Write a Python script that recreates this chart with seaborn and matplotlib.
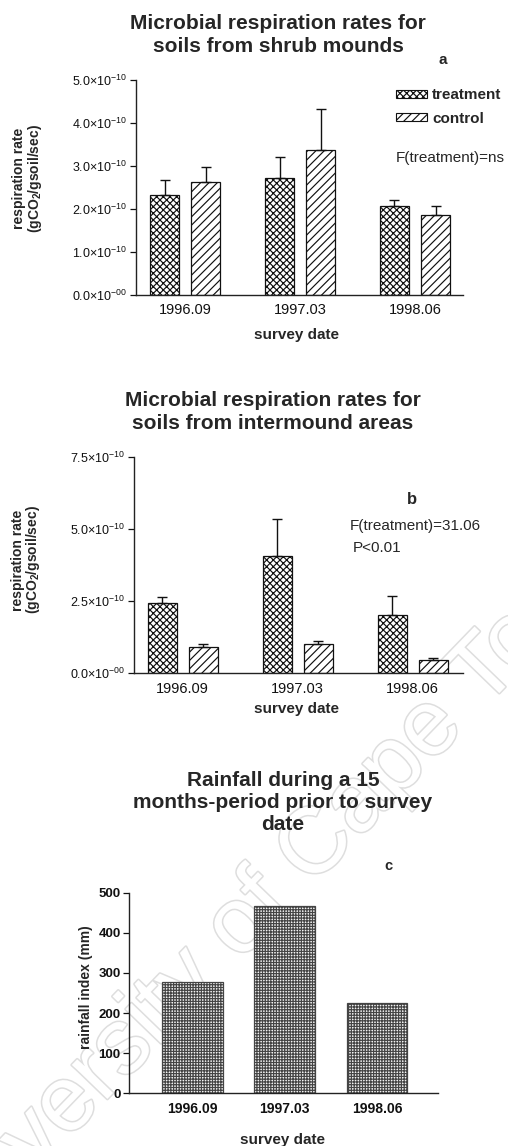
import matplotlib
matplotlib.use("Agg")
import matplotlib.pyplot as plt
import matplotlib.patheffects as pe
from matplotlib.patches import Patch
import numpy as np
import pandas as pd
import seaborn as sns

# ---- data -------------------------------------------------------------
dates = ["1996.09", "1997.03", "1998.06"]
groups = ["treatment", "control"]

# shrub mounds (units of 1e-10 gCO2/gsoil/sec)
mound_treatment = [2.33, 2.71, 2.07]
mound_control = [2.63, 3.37, 1.86]
mound_treatment_err = [0.34, 0.51, 0.13]
mound_control_err = [0.35, 0.96, 0.22]

# intermound areas (units of 1e-10 gCO2/gsoil/sec)
inter_treatment = [2.45, 4.08, 2.02]
inter_control = [0.92, 1.02, 0.46]
inter_treatment_err = [0.21, 1.27, 0.67]
inter_control_err = [0.09, 0.11, 0.06]

# rainfall index over the 15 months before each survey (mm)
rainfall = [278, 468, 226]

mound_ticks = [0, 1, 2, 3, 4, 5]
mound_ticklabels = ["$0.0×10^{-00}$", "$1.0×10^{-10}$", "$2.0×10^{-10}$",
                    "$3.0×10^{-10}$", "$4.0×10^{-10}$", "$5.0×10^{-10}$"]
inter_ticks = [0, 2.5, 5.0, 7.5]
inter_ticklabels = ["$0.0×10^{-00}$", "$2.5×10^{-10}$", "$5.0×10^{-10}$",
                    "$7.5×10^{-10}$"]
rain_ticks = [0, 100, 200, 300, 400, 500]

# ---- style ------------------------------------------------------------
sns.set_theme(style="ticks")
plt.rcParams["font.family"] = ["Liberation Sans", "DejaVu Sans"]
plt.rcParams["mathtext.fontset"] = "custom"
plt.rcParams["mathtext.rm"] = "Liberation Sans"
plt.rcParams["mathtext.it"] = "Liberation Sans:italic"
plt.rcParams["mathtext.bf"] = "Liberation Sans:bold"
plt.rcParams["mathtext.default"] = "regular"
plt.rcParams["hatch.linewidth"] = 0.85

W, H = 508, 1146
fig = plt.figure(figsize=(W / 100, H / 100), dpi=100)


def fx(x):
    return x / W


def fy(y):
    return 1 - y / H


def axes_px(left, right, top, bottom):
    return fig.add_axes([fx(left), fy(bottom), (right - left) / W, (bottom - top) / H])


# faint outlined institutional watermark, kept underneath every panel
fig.text(fx(268), fy(898), "University of Cape Town", rotation=46,
         fontsize=67, color="white", ha="center", va="center", zorder=-5,
         family="Liberation Sans",
         path_effects=[pe.withStroke(linewidth=2.2, foreground="#dedede")])

TITLE_SIZE = 15


def style_axes(ax, ysize=9, xsize=10.5, weight="normal"):
    sns.despine(ax=ax)
    ax.set_facecolor("none")
    for s in ("left", "bottom"):
        ax.spines[s].set_color("#222222")
        ax.spines[s].set_linewidth(1.0)
    ax.tick_params(axis="x", length=0, labelsize=xsize, pad=6, colors="#111111")
    ax.tick_params(axis="y", length=4, width=0.9, labelsize=ysize, pad=2, colors="#111111")
    for lab in ax.get_xticklabels() + ax.get_yticklabels():
        lab.set_fontweight(weight)


def grouped_panel(ax, treat, ctrl, terr, cerr):
    df = pd.DataFrame({
        "date": dates * 2,
        "group": [groups[0]] * 3 + [groups[1]] * 3,
        "rate": treat + ctrl,
    })
    sns.barplot(data=df, x="date", y="rate", hue="group", order=dates,
                hue_order=groups, width=0.72, gap=0.3, errorbar=None,
                legend=False, ax=ax)
    hatches = ["xxxxx", "////"]
    errs = [terr, cerr]
    for cont, hatch, err in zip(ax.containers, hatches, errs):
        xs, tops = [], []
        for p in cont.patches:
            p.set_facecolor("white")
            p.set_edgecolor("#111111")
            p.set_linewidth(0.9)
            p.set_hatch(hatch)
            xs.append(p.get_x() + p.get_width() / 2)
            tops.append(p.get_height())
        ax.errorbar(xs, tops, yerr=[np.zeros(len(err)), err], fmt="none",
                    ecolor="#111111", elinewidth=1.0, capsize=3.6, capthick=1.0)


YLABEL = "respiration rate\n(gCO$_2$/gsoil/sec)"

# ---- panel a : shrub mounds ---------------------------------------------
ax_a = axes_px(136, 463, 80, 295)
grouped_panel(ax_a, mound_treatment, mound_control, mound_treatment_err, mound_control_err)
ax_a.set_xlim(-0.429, 2.417)
ax_a.set_ylim(0, 5)
ax_a.set_yticks(mound_ticks)
ax_a.set_yticklabels(mound_ticklabels)
style_axes(ax_a)
ax_a.set_xlabel("survey date", fontsize=11, fontweight="bold")
ax_a.xaxis.set_label_coords(0.492, -0.152)
ax_a.set_ylabel(YLABEL, fontsize=10, fontweight="bold", linespacing=0.95)
ax_a.yaxis.set_label_coords(-0.282, 0.544)

fig.text(fx(278), fy(35), "Microbial respiration rates for\nsoils from shrub mounds",
         ha="center", va="center", fontsize=TITLE_SIZE, fontweight="bold", linespacing=1.28)
fig.text(fx(443), fy(60), "a", ha="center", va="center", fontsize=11, fontweight="bold")

legend_handles = [
    Patch(facecolor="white", edgecolor="#111111", hatch="xxxxx", linewidth=0.8, label="treatment"),
    Patch(facecolor="white", edgecolor="#111111", hatch="////", linewidth=0.8, label="control"),
]
fig.legend(handles=legend_handles, loc="center left",
           bbox_to_anchor=(fx(396), fy(107)), frameon=False,
           prop={"size": 11, "weight": "bold"}, handlelength=2.0,
           handleheight=0.45, handletextpad=0.35, labelspacing=0.6,
           borderpad=0, borderaxespad=0)
fig.text(fx(396), fy(158), "F(treatment)=ns", ha="left", va="center", fontsize=11)

# ---- panel b : intermound areas -----------------------------------------
ax_b = axes_px(134, 463, 457.3, 673.3)
grouped_panel(ax_b, inter_treatment, inter_control, inter_treatment_err, inter_control_err)
ax_b.set_xlim(-0.424, 2.437)
ax_b.set_ylim(0, 7.5)
ax_b.set_yticks(inter_ticks)
ax_b.set_yticklabels(inter_ticklabels)
style_axes(ax_b)
ax_b.set_xlabel("survey date", fontsize=11, fontweight="bold")
ax_b.xaxis.set_label_coords(0.495, -0.133)
ax_b.set_ylabel(YLABEL, fontsize=10, fontweight="bold", linespacing=0.95)
ax_b.yaxis.set_label_coords(-0.280, 0.525)

fig.text(fx(273), fy(412), "Microbial respiration rates for\nsoils from intermound areas",
         ha="center", va="center", fontsize=TITLE_SIZE, fontweight="bold", linespacing=1.28)
fig.text(fx(412), fy(499), "b", ha="center", va="center", fontsize=12, fontweight="bold")
fig.text(fx(350), fy(526), "F(treatment)=31.06", ha="left", va="center", fontsize=11)
fig.text(fx(353), fy(548), "P<0.01", ha="left", va="center", fontsize=11)

# ---- panel c : rainfall ---------------------------------------------------
ax_c = axes_px(129, 438, 892.7, 1093.3)
rain_df = pd.DataFrame({"date": dates, "rain": rainfall})
sns.barplot(data=rain_df, x="date", y="rain", order=dates, width=0.66,
            errorbar=None, color="white", ax=ax_c)
for p in ax_c.patches:
    p.set_facecolor("#f2f2f2")
    p.set_edgecolor("#444444")
    p.set_linewidth(0.9)
    p.set_hatch("++++++")
ax_c.set_xlim(-0.688, 2.661)
ax_c.set_ylim(0, 500)
ax_c.set_yticks(rain_ticks)
style_axes(ax_c, ysize=9.5, xsize=10, weight="bold")
ax_c.set_xlabel("survey date", fontsize=11, fontweight="bold")
ax_c.xaxis.set_label_coords(0.498, -0.196)
ax_c.set_ylabel("rainfall index (mm)", fontsize=10, fontweight="bold")
ax_c.yaxis.set_label_coords(-0.116, 0.531)

fig.text(fx(283), fy(803), "Rainfall during a 15\nmonths-period prior to survey\ndate",
         ha="center", va="center", fontsize=TITLE_SIZE, fontweight="bold", linespacing=1.2)
fig.text(fx(388), fy(866), "c", ha="center", va="center", fontsize=10.5, fontweight="bold")

fig.savefig("out.png", dpi=100)
